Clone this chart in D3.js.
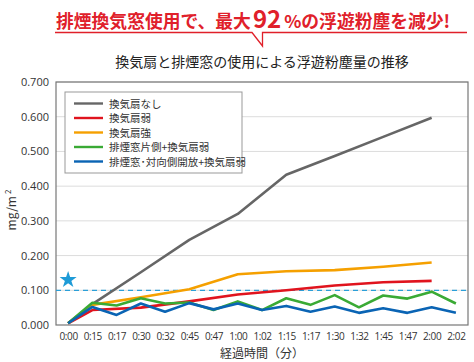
<!DOCTYPE html>
<html>
<head>
<meta charset="utf-8">
<script src="https://cdn.jsdelivr.net/npm/d3@7"></script>
<style>
  body { margin: 0; background: #fff; }
  svg { display: block; font-family: "Noto Sans CJK JP", "Noto Sans", sans-serif; }
</style>
</head>
<body>
<svg id="chart"></svg>
<script>
// categories (x axis)
const times = ['0:00','0:15','0:17','0:30','0:32','0:45','0:47','1:00','1:02','1:15','1:17','1:30','1:32','1:45','1:47','2:00','2:02'];
const yTicks = [0, 0.1, 0.2, 0.3, 0.4, 0.5, 0.6, 0.7];

// series values, [time, value]
const noFan = [['0:00',0.005],['0:15',0.06],['0:30',0.152],['0:45',0.245],['1:00',0.32],['1:15',0.433],['1:30',0.487],['1:45',0.542],['2:00',0.597]];
const fanWeak = [['0:00',0.005],['0:15',0.043],['0:30',0.05],['0:45',0.068],['1:00',0.088],['1:15',0.1],['1:30',0.114],['1:45',0.123],['2:00',0.127]];
const fanStrong = [['0:00',0.005],['0:15',0.058],['0:30',0.08],['0:45',0.103],['1:00',0.146],['1:15',0.155],['1:30',0.158],['1:45',0.168],['2:00',0.18]];
const oneSide = [0.005,0.064,0.056,0.077,0.062,0.065,0.043,0.068,0.043,0.077,0.058,0.086,0.051,0.085,0.076,0.096,0.062];
const bothSide = [0.005,0.052,0.029,0.062,0.038,0.063,0.045,0.062,0.043,0.055,0.038,0.053,0.035,0.048,0.035,0.051,0.035];

const seriesNames = ['換気扇なし','換気扇弱','換気扇強','排煙窓片側+換気扇弱','排煙窓･対向側開放+換気扇弱'];
const seriesColors = ['#666666','#e0141e','#f5a000','#3aaa35','#0a64b4'];
const refLine = 0.1;
const starValue = 0.13;

const width = 474, height = 362;
const margin = {top: 82, right: 6, bottom: 37, left: 56};

const svg = d3.select('#chart').attr('width', width).attr('height', height);

// headline
const head = svg.append('text')
    .attr('x', 56).attr('y', 28)
    .attr('fill', '#e0202a')
    .attr('font-weight', 'bold')
    .attr('font-size', 17.8);
head.append('tspan').text('排煙換気窓使用で、最大');
head.append('tspan').attr('font-size', 24).attr('dx', 2).text('92');
head.append('tspan').attr('font-size', 17.8).attr('dx', 3).text('%の浮遊粉塵を減少!');

svg.append('path')
    .attr('d', 'M55,32.5 H252 L262.5,46 V32.5 H467')
    .attr('fill', 'none')
    .attr('stroke', '#e0202a')
    .attr('stroke-width', 1.3);

svg.append('text')
    .attr('x', 262).attr('y', 67)
    .attr('text-anchor', 'middle')
    .attr('fill', '#222')
    .attr('font-size', 14)
    .text('換気扇と排煙窓の使用による浮遊粉塵量の推移');

const innerW = width - margin.left - margin.right;
const innerH = height - margin.top - margin.bottom;

const x = d3.scalePoint().domain(times).range([0, innerW]).padding(0.5);
const y = d3.scaleLinear().domain([0, 0.7]).range([innerH, 0]);

const g = svg.append('g').attr('transform', `translate(${margin.left},${margin.top})`);

// grid
g.selectAll('.grid')
    .data(yTicks.slice(1))
    .join('line').attr('class', 'grid')
    .attr('x1', 0).attr('x2', innerW)
    .attr('y1', d => y(d)).attr('y2', d => y(d))
    .attr('stroke', '#dcdcdc').attr('stroke-width', 1);

// axes labels
const yAxis = g.append('g')
    .call(d3.axisLeft(y).tickValues(yTicks).tickFormat(d3.format('.3f')).tickSize(0).tickPadding(7));
yAxis.select('.domain').remove();
yAxis.selectAll('text').attr('font-size', 11).attr('fill', '#333').style('font-family', '"Open Sans", "Noto Sans", sans-serif');

const xAxis = g.append('g')
    .attr('transform', `translate(0,${innerH})`)
    .call(d3.axisBottom(x).tickSize(0).tickPadding(8));
xAxis.select('.domain').remove();
xAxis.selectAll('text')
    .attr('font-size', 10)
    .attr('letter-spacing', -0.4)
    .attr('fill', '#333')
    .style('font-family', '"Open Sans", "Noto Sans", sans-serif');

// plot frame
g.append('rect')
    .attr('x', 0).attr('y', 0)
    .attr('width', innerW).attr('height', innerH)
    .attr('fill', 'none')
    .attr('stroke', '#777').attr('stroke-width', 1.2);

// reference line and star
g.append('line')
    .attr('x1', 0).attr('x2', innerW)
    .attr('y1', y(refLine)).attr('y2', y(refLine))
    .attr('stroke', '#2a9fd8').attr('stroke-width', 1.2)
    .attr('stroke-dasharray', '5,4');

g.append('path')
    .attr('d', d3.symbol(d3.symbolStar, 90)())
    .attr('transform', `translate(${x('0:00')},${y(starValue)})`)
    .attr('fill', '#1e9bd7');

// lines
const line = d3.line().x(d => x(d[0])).y(d => y(d[1]));
const allSeries = [
    noFan,
    fanWeak,
    fanStrong,
    oneSide.map((v, i) => [times[i], v]),
    bothSide.map((v, i) => [times[i], v])
];

g.selectAll('.series')
    .data(allSeries)
    .join('path').attr('class', 'series')
    .attr('d', line)
    .attr('fill', 'none')
    .attr('stroke', (d, i) => seriesColors[i])
    .attr('stroke-width', 2.6)
    .attr('stroke-linejoin', 'round');

// legend
const legend = svg.append('g').attr('transform', 'translate(65,92)');
legend.append('rect')
    .attr('width', 177).attr('height', 81)
    .attr('fill', '#fff')
    .attr('stroke', '#999').attr('stroke-width', 1);

const items = legend.selectAll('.item')
    .data(seriesNames)
    .join('g').attr('class', 'item')
    .attr('transform', (d, i) => `translate(9,${11.5 + i * 14.5})`);
items.append('line')
    .attr('x1', 0).attr('x2', 29)
    .attr('stroke', (d, i) => seriesColors[i])
    .attr('stroke-width', 2.4);
items.append('text')
    .attr('x', 35).attr('y', 4)
    .attr('font-size', 10.5)
    .attr('fill', '#333')
    .text(d => d);

// axis titles
svg.append('text')
    .attr('transform', 'translate(16,210) rotate(-90)')
    .attr('text-anchor', 'middle')
    .attr('font-size', 12)
    .attr('fill', '#333')
    .html('mg/m<tspan font-size="8" dy="-5" dx="2">2</tspan>');

svg.append('text')
    .attr('x', 262).attr('y', 358)
    .attr('text-anchor', 'middle')
    .attr('font-size', 12)
    .attr('fill', '#333')
    .text('経過時間（分）');
</script>
</body>
</html>
